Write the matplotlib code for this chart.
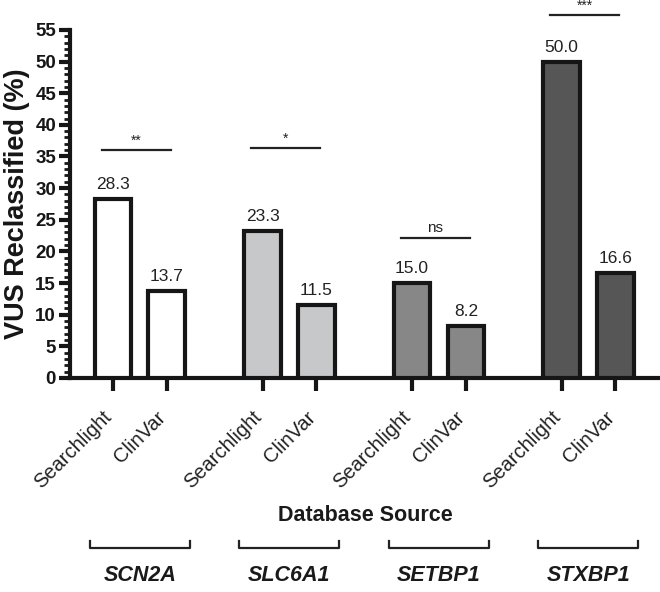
import matplotlib
matplotlib.use("Agg")
import matplotlib.pyplot as plt
import matplotlib.transforms as mtransforms
import numpy as np

plt.rcParams['font.family'] = ['Liberation Sans', 'DejaVu Sans']

# Datos
genes = ["SCN2A", "SLC6A1", "SETBP1", "STXBP1"]
sources = ["Searchlight", "ClinVar"]
searchlight = [28.3, 23.3, 15.0, 50.0]
clinvar = [13.7, 11.5, 8.2, 16.6]
signif = ["**", "*", "ns", "***"]
sig_y = [36.0, 36.3, 22.1, 57.3]
colores = ["#ffffff", "#c7c8ca", "#878787", "#565656"]

grupo_paso = 2.78
ancho = 0.68

fig = plt.figure(figsize=(6.6, 5.92), dpi=100)
ax = fig.add_axes([0.106, 0.3615, 0.894, 0.588])

ticks, labels = [], []
for i, g in enumerate(genes):
    x0 = i * grupo_paso
    x1 = x0 + 1
    for x, v in zip([x0, x1], [searchlight[i], clinvar[i]]):
        ax.bar(x, v, width=ancho, color=colores[i], edgecolor="#161616",
               linewidth=3, zorder=3)
        ax.annotate(f"{v:.1f}", (x, v), xytext=(0, 5), textcoords="offset points",
                    ha="center", va="bottom", fontsize=12.5, color="#222222")
    ticks += [x0, x1]
    labels += sources

    # lineas de significancia
    ax.plot([x0 - 0.21, x1 + 0.07], [sig_y[i], sig_y[i]], color="#222222",
            lw=1.6, clip_on=False)
    ax.annotate(signif[i], ((x0 + x1) / 2 - 0.07, sig_y[i]), xytext=(0, 2),
                textcoords="offset points", ha="center", va="bottom",
                fontsize=11 if signif[i] == "ns" else 10, color="#222222",
                annotation_clip=False)

    # corchetes de genes
    trans = mtransforms.blended_transform_factory(ax.transData, ax.transAxes)
    xm = (x0 + x1) / 2
    ax.plot([xm - 0.93, xm - 0.93, xm + 0.93, xm + 0.93],
            [-0.467, -0.489, -0.489, -0.467], color="#222222", lw=1.6,
            transform=trans, clip_on=False)
    ax.text(xm, -0.566, g, transform=trans, ha="center", va="center",
            fontsize=15.5, fontweight="bold", fontstyle="italic", color="#1a1a1a")

ax.set_xlim(-0.8, 3 * grupo_paso + 1 + 0.83)
ax.set_ylim(0, 55)
ax.set_yticks(np.arange(0, 56, 5))
ax.set_yticks(np.arange(0, 56, 1), minor=True)
ax.set_xticks(ticks)
ax.set_xticklabels(labels, rotation=45, ha="right", va="baseline",
                   rotation_mode="anchor", fontsize=14.5, color="#222222")

for lab in ax.get_yticklabels():
    lab.set_fontweight("bold")
ax.tick_params(axis="y", which="major", length=8, width=3, labelsize=13.5,
               pad=2, color="#161616", labelcolor="#161616")
ax.tick_params(axis="y", which="minor", length=4, width=2, color="#161616")
ax.tick_params(axis="x", which="major", length=9, width=3, pad=20, color="#161616")

for s in ["top", "right"]:
    ax.spines[s].set_visible(False)
for s in ["left", "bottom"]:
    ax.spines[s].set_linewidth(3)
    ax.spines[s].set_color("#161616")

ax.set_ylabel("VUS Reclassified (%)", fontsize=19.5, fontweight="bold",
              color="#161616", labelpad=4)
ax.text(0.5, -0.394, "Database Source", transform=ax.transAxes, ha="center",
        va="center", fontsize=15.5, fontweight="bold", color="#1a1a1a")

fig.savefig("out.png", dpi=100)
